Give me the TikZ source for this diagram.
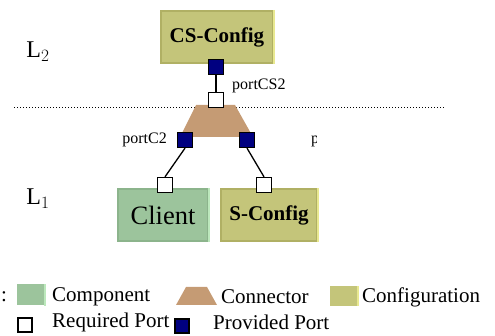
\documentclass[tikz,border=0pt]{standalone}
\usepackage{fontspec}
\setmainfont{Liberation Serif}
\definecolor{cfgfill}{HTML}{C4C57A}
\definecolor{cfgedge}{HTML}{B0B064}
\definecolor{cfglite}{HTML}{E8E890}
\definecolor{compfill}{HTML}{9CC49C}
\definecolor{compedge}{HTML}{8CB48C}
\definecolor{complite}{HTML}{BCE8BC}
\definecolor{connfill}{HTML}{C59B74}
\definecolor{portblue}{HTML}{000080}
\begin{document}
\begin{tikzpicture}[x=1pt, y=-1pt]
    \tikzstyle{config} = [fill=cfgfill, draw=cfgedge, line width=2pt, inner sep=0pt, font=\fontsize{21}{24}\selectfont\bfseries]
    \tikzstyle{comp} = [fill=compfill, draw=compedge, line width=2pt, inner sep=0pt, font=\fontsize{26.5}{30}\selectfont]
    \tikzstyle{reqport} = [draw=black, fill=white, line width=1.3pt, minimum size=15pt, inner sep=0pt]
    \tikzstyle{provport} = [draw=black, fill=portblue, line width=1.3pt, minimum size=15pt, inner sep=0pt]
    \tikzstyle{label} = [font=\fontsize{16}{18}\selectfont, inner sep=0pt]
    \tikzstyle{legend} = [font=\fontsize{21}{24}\selectfont, inner sep=0pt, anchor=west]
    \tikzstyle{layer} = [font=\fontsize{24}{26}\selectfont, inner sep=0pt]
    \useasboundingbox (0,0) rectangle (495,336);
    % layers
    \node[layer] (ltwo) at (38,52) {L$_2$};
    \node[layer] (lone) at (38,199) {L$_1$};
    \draw[dotted, line width=1pt] (14,108) -- (445,108);
    % boxes
    \node[config, minimum width=112pt, minimum height=52pt] (csconfig) at (217,37) {CS-Config};
    \draw[cfglite, line width=2pt] (csconfig.north east) -- (csconfig.south east);
    \node[comp, minimum width=90pt, minimum height=52pt] (client) at (163,215) {Client};
    \draw[complite, line width=2pt] (client.north east) -- (client.south east);
    \node[config, minimum width=96pt, minimum height=52pt] (sconfig) at (269,215) {S-Config};
    \draw[cfglite, line width=2pt] (sconfig.north east) -- (sconfig.south east);
    % connector
    \fill[connfill] (196,105) -- (235,105) -- (253,137) -- (180,137) -- cycle;
    % ports
    \node[provport] (csprov) at (216,67) {};
    \node[reqport] (connreq) at (216,100) {};
    \node[provport] (connprovl) at (185,140) {};
    \node[provport] (connprovr) at (247,140) {};
    \node[reqport] (clientreq) at (165,185) {};
    \node[reqport] (sconfreq) at (264,185) {};
    \draw[line width=1.3pt] (csprov.south) -- (connreq.north);
    \draw[line width=1.3pt] (connprovl.south) -- (clientreq.north);
    \draw[line width=1.3pt] (connprovr.south) -- (sconfreq.north);
    \node[label, anchor=west] (lcs) at (232,86) {portCS2};
    \node[label, anchor=east] (lc) at (167,140) {portC2};
    \begin{scope}
      \clip (300,120) rectangle (316,160);
      \node[label, anchor=west] (ls) at (311,140) {portS2};
    \end{scope}
    % legend
    \node[legend] (leg) at (1,297) {:};
    \node[fill=compfill, minimum width=28pt, minimum height=21pt, inner sep=0pt] (legcomp) at (31,295) {};
    \draw[complite, line width=2pt] (legcomp.north east) -- (legcomp.south east);
    \node[legend] (tcomp) at (52,297) {Component};
    \fill[connfill] (186,287) -- (207,287) -- (217,305) -- (176,305) -- cycle;
    \node[legend] (tconn) at (221,297) {Connector};
    \node[fill=cfgfill, minimum width=28pt, minimum height=20pt, inner sep=0pt] (legcfg) at (344,296) {};
    \draw[cfglite, line width=2pt] (legcfg.north east) -- (legcfg.south east);
    \node[legend] (tcfg) at (362,297) {Configuration};
    \node[reqport, minimum size=14pt] (legreq) at (25,325) {};
    \node[legend] (treq) at (52,322) {Required Port};
    \node[provport, minimum size=14pt] (legprov) at (182,326) {};
    \node[legend] (tprov) at (213,322) {Provided Port};
\end{tikzpicture}
\end{document}
